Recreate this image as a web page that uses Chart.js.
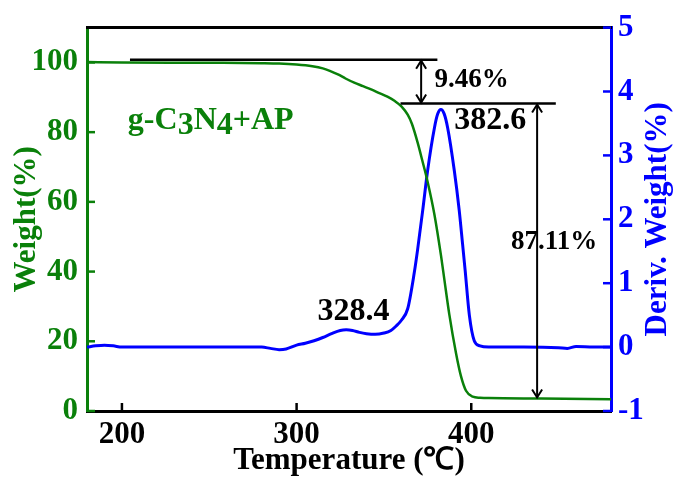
<!DOCTYPE html>
<html>
<head>
<meta charset="utf-8">
<script src="https://cdn.jsdelivr.net/npm/chart.js@4.4.0/dist/chart.umd.min.js"></script>
<style>
body { margin: 0; background: #fff; }
</style>
</head>
<body>
<canvas id="tgaChart" width="673" height="481"></canvas>
<script>
// TG curve (weight %)
const weightTemps = [180, 200, 250, 280, 290, 300, 309, 315, 319, 324, 328, 333, 338, 343, 347, 352, 356, 360, 363.6, 366, 369.3, 372, 375, 378.9, 382.7, 384.6, 387.4, 391.3, 394.1, 397, 400.8, 405, 410, 440, 480];
const weightValues = [100.1, 100, 99.9, 99.8, 99.7, 99.4, 98.9, 98.3, 97.6, 96.5, 95.4, 94.2, 93.2, 92.2, 91.3, 90.2, 89.0, 87.4, 85.0, 82.4, 77.0, 71.8, 65.8, 56.4, 44.5, 37.7, 27.8, 16.5, 10.0, 5.8, 4.1, 3.8, 3.7, 3.6, 3.4];

// DTG curve (deriv. weight %)
const derivTemps = [180, 185, 190, 195, 200, 220, 250, 280, 285, 290, 294, 300, 305, 310, 315, 320, 325, 328.4, 332, 336, 340, 345, 350, 354, 357, 360, 363.6, 367.4, 369.3, 372.2, 375, 378.9, 380.8, 382.6, 384.5, 386.5, 390.3, 393.1, 395, 396.5, 398.9, 401.7, 405, 410, 430, 450, 455, 460, 470, 480];
const derivValues = [0, 0.02, 0.03, 0.02, 0, 0, 0, 0, -0.02, -0.04, -0.03, 0.03, 0.06, 0.1, 0.15, 0.21, 0.26, 0.27, 0.26, 0.23, 0.21, 0.2, 0.22, 0.26, 0.33, 0.42, 0.6, 1.17, 1.53, 2.14, 2.76, 3.43, 3.65, 3.72, 3.65, 3.43, 2.76, 2.14, 1.62, 1.2, 0.5, 0.1, 0.02, 0, 0, -0.01, -0.02, 0.01, 0, 0];

const xTicks = [200, 300, 400];
const weightTicks = [0, 20, 40, 60, 80, 100];
const derivTicks = [-1, 0, 1, 2, 3, 4, 5];

// step lines, arrows and labels (temperature / weight units)
const stepFrom = [204.6, 359.5];
const stepTo = [380.6, 448.4];
const stepLevel = [100.8, 88.2];
const arrowTemp = [371.3, 437.7];
const arrowTop = [100.8, 88.2];
const arrowBottom = [88.2, 3.6];
const labelTexts = ['9.46%', '382.6', '328.4', '87.11%'];
const labelTemps = [378.9, 390.3, 312, 422.7];
const labelLevels = [95.0, 83.4, 28.5, 48.5];
const labelSizes = [27, 32, 32, 27];

const green = '#0a800a';
const blue = '#0000ff';
const serif = "'Liberation Serif', 'Times New Roman', serif";

const toPoints = function(xs, ys) {
    let pts = [];
    for(let i=0;i<xs.length;i++) {
        pts.push({x: xs[i], y: ys[i]});
    }
    return pts;
};

const line = function(ctx, x1, y1, x2, y2) {
    ctx.beginPath();
    ctx.moveTo(x1, y1);
    ctx.lineTo(x2, y2);
    ctx.stroke();
};

// dir 1 = pointing down, -1 = pointing up
const arrowHead = function(ctx, x, y, dir) {
    ctx.beginPath();
    ctx.moveTo(x - 5, y - dir * 8);
    ctx.lineTo(x, y);
    ctx.lineTo(x + 5, y - dir * 8);
    ctx.stroke();
};

const extras = {
    id: 'extras',
    afterDraw: function(chart) {
        const ctx = chart.ctx;
        const area = chart.chartArea;
        const xs = chart.scales.x;
        const yw = chart.scales.yW;
        const yd = chart.scales.yD;
        ctx.save();
        ctx.lineCap = 'butt';

        // top frame line
        ctx.strokeStyle = '#000';
        ctx.lineWidth = 3;
        line(ctx, area.left - 1, area.top, area.right + 1, area.top);

        // inward tick marks
        ctx.lineWidth = 2.5;
        xTicks.forEach(function(v) {
            const px = xs.getPixelForValue(v);
            line(ctx, px, area.bottom, px, area.bottom - 8);
        });
        ctx.strokeStyle = green;
        weightTicks.forEach(function(v) {
            const py = yw.getPixelForValue(v);
            line(ctx, area.left, py, area.left + 8, py);
        });
        ctx.strokeStyle = blue;
        derivTicks.forEach(function(v) {
            const py = yd.getPixelForValue(v);
            line(ctx, area.right, py, area.right - 8, py);
        });

        // mass-loss steps
        ctx.strokeStyle = '#000';
        ctx.lineWidth = 2.5;
        for(let i=0;i<stepFrom.length;i++) {
            const py = yw.getPixelForValue(stepLevel[i]);
            line(ctx, xs.getPixelForValue(stepFrom[i]), py, xs.getPixelForValue(stepTo[i]), py);
        }
        ctx.lineWidth = 2;
        for(let i=0;i<arrowTemp.length;i++) {
            const px = xs.getPixelForValue(arrowTemp[i]);
            const top = yw.getPixelForValue(arrowTop[i]);
            const bottom = yw.getPixelForValue(arrowBottom[i]);
            line(ctx, px, top + 1, px, bottom - 1);
            arrowHead(ctx, px, top + 1, -1);
            arrowHead(ctx, px, bottom - 1, 1);
        }

        // value labels
        ctx.fillStyle = '#000';
        ctx.textBaseline = 'middle';
        ctx.textAlign = 'left';
        for(let i=0;i<labelTexts.length;i++) {
            ctx.font = 'bold ' + labelSizes[i] + 'px ' + serif;
            ctx.fillText(labelTexts[i], xs.getPixelForValue(labelTemps[i]), yw.getPixelForValue(labelLevels[i]));
        }

        // sample name with subscripts
        ctx.fillStyle = green;
        ctx.font = 'bold 32px ' + serif;
        ctx.textBaseline = 'alphabetic';
        let tx = xs.getPixelForValue(203.4);
        const ty = yw.getPixelForValue(80.9);
        [['g-C', 0], ['3', 5], ['N', 0], ['4', 5], ['+AP', 0]].forEach(function(p) {
            ctx.fillText(p[0], tx, ty + p[1]);
            tx += ctx.measureText(p[0]).width;
        });

        // right axis title, reading upward
        ctx.fillStyle = blue;
        ctx.font = 'bold 31px ' + serif;
        ctx.textAlign = 'center';
        ctx.textBaseline = 'middle';
        ctx.translate(658, (area.top + area.bottom) / 2);
        ctx.rotate(-Math.PI / 2);
        ctx.fillText('Deriv. Weight(%)', 0, 0);
        ctx.restore();
    }
};

const ctxChart = document.getElementById('tgaChart');
window.chartObject = new Chart(ctxChart, {
    type: 'line',
    data: {
        datasets: [{
            label: 'Weight',
            data: toPoints(weightTemps, weightValues),
            borderColor: green,
            borderWidth: 2.5,
            pointRadius: 0,
            cubicInterpolationMode: 'monotone',
            yAxisID: 'yW'
        }, {
            label: 'Deriv. Weight',
            data: toPoints(derivTemps, derivValues),
            borderColor: blue,
            borderWidth: 3,
            pointRadius: 0,
            cubicInterpolationMode: 'monotone',
            yAxisID: 'yD'
        }]
    },
    options: {
        responsive: false,
        animation: false,
        layout: { padding: { top: 21 } },
        plugins: { legend: { display: false }, tooltip: { enabled: false } },
        scales: {
            x: {
                type: 'linear',
                min: 180,
                max: 480,
                afterBuildTicks: function(scale) { scale.ticks = xTicks.map(v => ({value: v})); },
                afterFit: function(scale) { scale.height = 70; },
                grid: { display: false, drawTicks: false },
                border: { color: '#000', width: 3 },
                ticks: { color: '#000', padding: 5, maxRotation: 0, font: { family: serif, size: 31, weight: 'bold' } },
                title: { display: true, text: 'Temperature (℃)', color: '#000', padding: { top: 0, bottom: 1 }, font: { family: serif, size: 31, weight: 'bold' } }
            },
            yW: {
                type: 'linear',
                position: 'left',
                min: 0,
                max: 110,
                afterBuildTicks: function(scale) { scale.ticks = weightTicks.map(v => ({value: v})); },
                afterFit: function(scale) { scale.width = 87; },
                grid: { display: false, drawTicks: false },
                border: { color: green, width: 3 },
                ticks: { color: green, padding: 9, font: { family: serif, size: 31, weight: 'bold' } },
                title: { display: true, text: 'Weight(%)', color: green, padding: { top: 8, bottom: 0 }, font: { family: serif, size: 31, weight: 'bold' } }
            },
            yD: {
                type: 'linear',
                position: 'right',
                min: -1,
                max: 5,
                afterBuildTicks: function(scale) { scale.ticks = derivTicks.map(v => ({value: v})); },
                afterFit: function(scale) { scale.width = 62; },
                grid: { display: false, drawTicks: false },
                border: { color: blue, width: 3 },
                ticks: { color: blue, padding: 7, font: { family: serif, size: 31, weight: 'bold' } }
            }
        }
    },
    plugins: [extras]
});
</script>
</body>
</html>
